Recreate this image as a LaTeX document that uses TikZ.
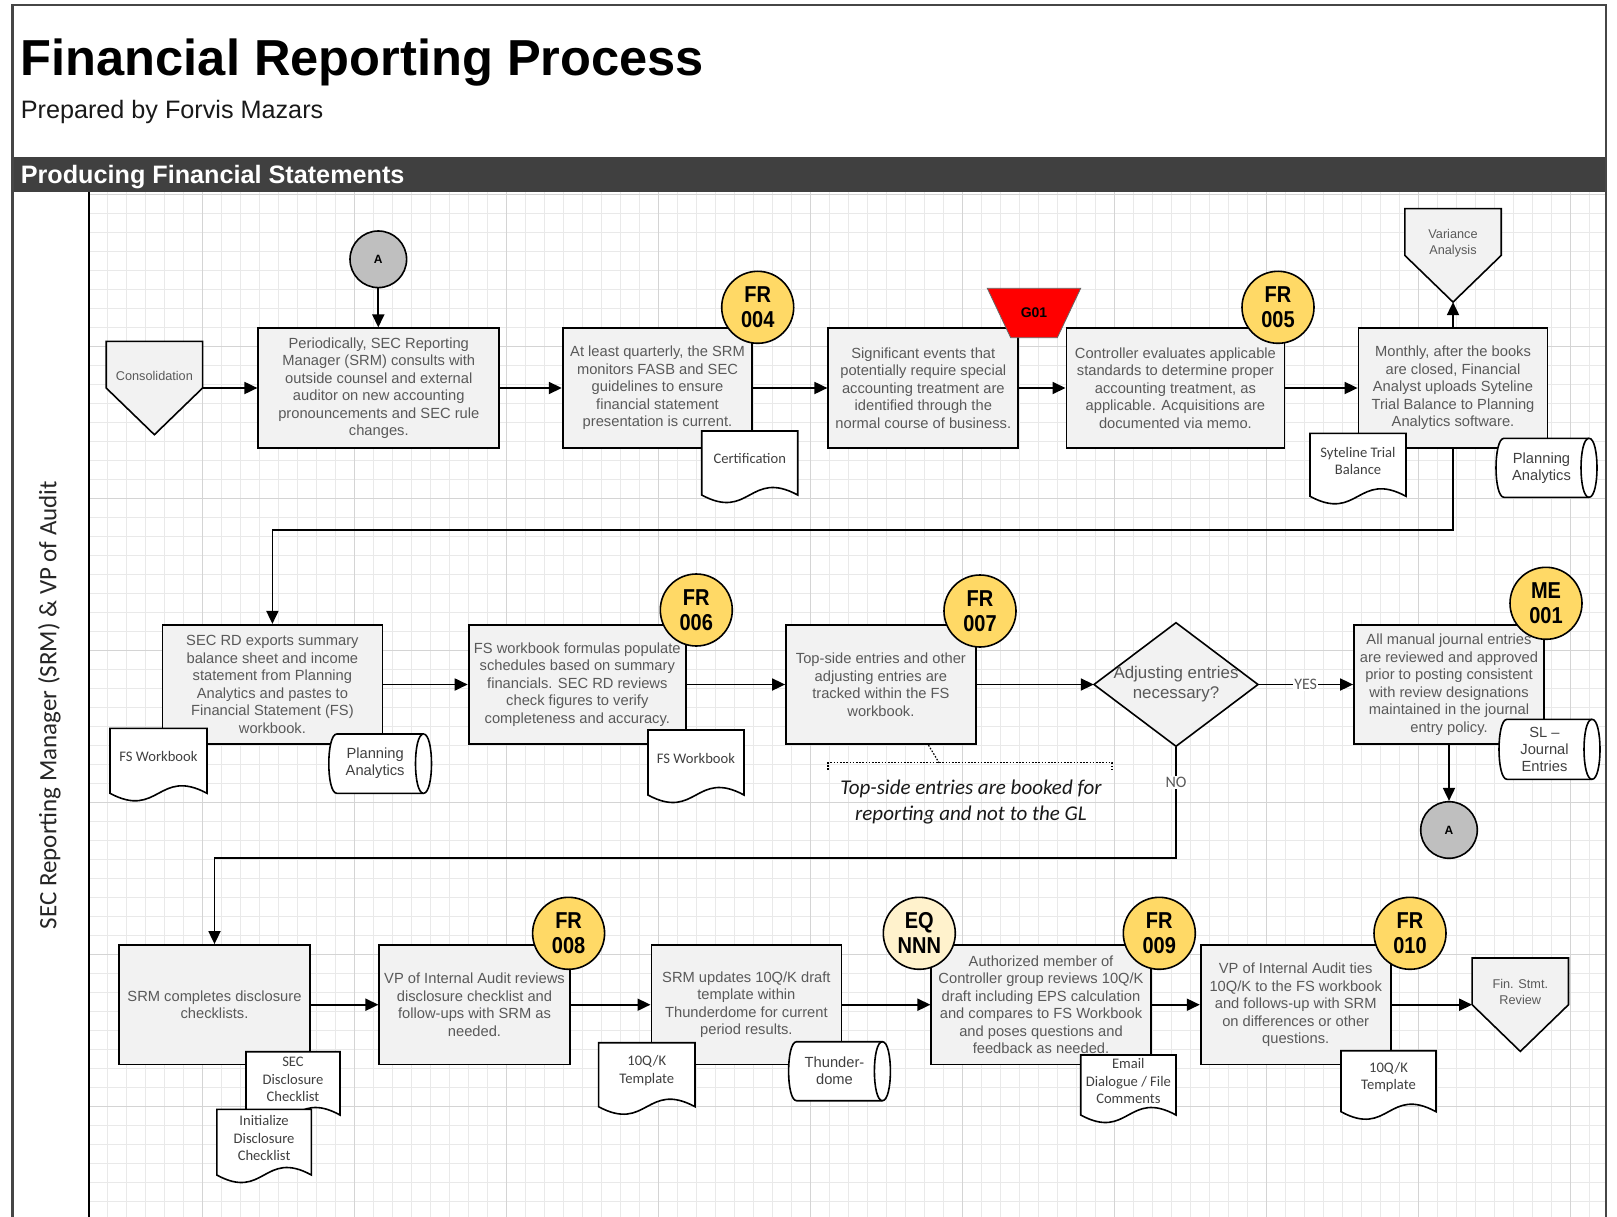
\documentclass[tikz,border=0pt]{standalone}
\usepackage{fontspec}
\setmainfont{Liberation Sans}
\newfontfamily\calibri{Carlito}
\newfontfamily\ctrlfont[FakeStretch=0.87]{Liberation Sans}
\usetikzlibrary{arrows.meta,calc}

\definecolor{boxfill}{RGB}{242,242,242}
\definecolor{boxtext}{RGB}{89,89,89}
\definecolor{ctrlgold}{RGB}{255,217,102}
\definecolor{ctrllight}{RGB}{255,242,204}
\definecolor{agray}{RGB}{191,191,191}
\definecolor{bandc}{RGB}{64,64,64}
\definecolor{gridc1}{RGB}{233,233,233}
\definecolor{gridc2}{RGB}{212,212,212}
\definecolor{doctxt}{RGB}{64,64,64}
\definecolor{framec}{RGB}{70,70,70}

% wavy-bottom document: name, left, top, width, height, text
\newcommand{\mkdoc}[6]{%
  \draw[docline] (#2,#3) -- ({#2+#4},#3) -- ({#2+#4},{#3+#5})
    .. controls ({#2+#4/2},{#3+#5-26}) and ({#2+#4/2},{#3+#5+26}) .. (#2,{#3+#5}) -- cycle;
  \node[doctext] (#1) at ({#2+#4/2},{#3+#5/2-4}) {#6};
}
% stored-data cylinder lying on its side: name, left, top, width, height, text
\newcommand{\mkcyl}[6]{%
  \draw[docline] ({#2+8},#3) -- ({#2+#4-8},#3)
    .. controls ({#2+#4+2.67},#3) and ({#2+#4+2.67},{#3+#5}) .. ({#2+#4-8},{#3+#5})
    -- ({#2+8},{#3+#5})
    .. controls ({#2-2.67},{#3+#5}) and ({#2-2.67},#3) .. ({#2+8},#3) -- cycle;
  \draw[docline] ({#2+#4-8},#3)
    .. controls ({#2+#4-18.67},#3) and ({#2+#4-18.67},{#3+#5}) .. ({#2+#4-8},{#3+#5});
  \node[cyltext] (#1) at ({#2+#4/2-5},{#3+#5/2}) {#6};
}
% off-page reference pentagon: name, centre x, centre y, text
\newcommand{\mkoff}[4]{%
  \node[offnode] (#1) at (#2,#3) {};
  \draw[offline] (#1.north west) -- (#1.north east) -- (#1.east) -- (#1.south) -- (#1.west) -- cycle;
  \node[smalltext] (#1-t) at ([yshift=12.5pt]#1.center) {#4};
}

\begin{document}
\begin{tikzpicture}[x=1pt,y=-1pt,
  proc/.style={draw, line width=1.8pt, fill=boxfill, text=boxtext, align=center,
    inner sep=0pt, minimum height=119.4pt, font={\fontsize{14.7}{17.5}\selectfont}},
  ctrl/.style={circle, draw, line width=1.6pt, fill=ctrlgold, minimum size=72pt,
    inner sep=0pt, align=center, font={\ctrlfont\bfseries\fontsize{23}{25}\selectfont}},
  ctrlb/.style={ctrl, fill=ctrllight},
  aconn/.style={circle, draw, line width=1.6pt, fill=agray, minimum size=56.6pt,
    inner sep=0pt, font={\bfseries\fontsize{12}{14}\selectfont}},
  docline/.style={draw, line width=1.6pt, fill=white},
  doctext/.style={align=center, inner sep=0pt, text=doctxt,
    font={\calibri\fontsize{14.6}{17.6}\selectfont}},
  cyltext/.style={align=center, inner sep=0pt, text=doctxt,
    font={\fontsize{14.7}{17}\selectfont}},
  offnode/.style={draw=none, minimum width=96pt, minimum height=93pt, inner sep=0pt},
  offline/.style={draw, line width=1.6pt, fill=boxfill},
  smalltext/.style={align=center, inner sep=0pt, text=boxtext,
    font={\fontsize{12.7}{16}\selectfont}},
  conn/.style={line width=1.8pt, -{Triangle[length=13pt,width=12pt]}},
  lbl/.style={fill=white, inner sep=1pt, text=boxtext,
    font={\calibri\fontsize{16}{18}\selectfont}},
  notedash/.style={line width=1.2pt, dash pattern=on 1.6pt off 1.6pt},
  gridmin/.style={draw=gridc1, line width=0.9pt},
  gridmaj/.style={draw=gridc2, line width=1pt}
]
\useasboundingbox (0,0) rectangle (1617,1217);
\fill[white] (0,0) rectangle (1617,1217);

% ---------- swimlane grid ----------
\begin{scope}
  \clip (88.7,192) rectangle (1606,1217);
  \foreach \k in {1,...,79} \draw[gridmin] ({88.7+19*\k},192) -- ({88.7+19*\k},1217);
  \foreach \j in {-1,...,52} \draw[gridmin] (88.7,{213.3+19*\j}) -- (1606,{213.3+19*\j});
  \foreach \m in {0,...,9} \draw[gridmaj] ({202.7+152*\m},192) -- ({202.7+152*\m},1217);
  \foreach \m in {0,...,6} \draw[gridmaj] (88.7,{194.3+152*\m}) -- (1606,{194.3+152*\m});
\end{scope}

% ---------- page frame, title and section band ----------
\fill[bandc] (12.4,157) rectangle (1606,192);
\draw[framec, line width=2.4pt] (12.4,1217) -- (12.4,5) -- (1606,5) -- (1606,1217);
\draw[line width=1.8pt] (88.7,192) -- (88.7,1217);

\node[anchor=base west, inner sep=0pt, font={\bfseries\fontsize{50.6}{60}\selectfont}]
  (title) at (20.6,75.3) {Financial Reporting Process};
\node[anchor=base west, inner sep=0pt, text=black!90, font={\fontsize{25.2}{30}\selectfont}]
  (subtitle) at (20.6,118.6) {Prepared by Forvis Mazars};
\node[anchor=base west, inner sep=0pt, text=white, font={\bfseries\fontsize{25.2}{30}\selectfont}]
  (section) at (20.6,183.5) {Producing Financial Statements};
\node[rotate=90, inner sep=0pt, text=black!85, font={\calibri\fontsize{25}{30}\selectfont}]
  (lane) at (49.5,705) {SEC Reporting Manager (SRM) \& VP of Audit};

% ---------- row 1 ----------
\node[proc, minimum width=241pt] (box1) at (378.8,388)
  {Periodically, SEC Reporting\\Manager (SRM) consults with\\outside counsel and external\\auditor on new accounting\\pronouncements and SEC rule\\changes.};
\node[proc, minimum width=189.6pt] (box2) at (657.5,388)
  {At least quarterly, the SRM\\monitors FASB and SEC\\guidelines to ensure\\financial statement\\presentation is current.};
\node[proc, minimum width=190pt] (box3) at (923.3,388)
  {Significant events that\\potentially require special\\accounting treatment are\\identified through the\\normal course of business.};
\node[proc, minimum width=218pt] (box4) at (1175.4,388)
  {Controller evaluates applicable\\standards to determine proper\\accounting treatment, as\\applicable. Acquisitions are\\documented via memo.};
\node[proc, minimum width=189pt] (box5) at (1453,388)
  {Monthly, after the books\\are closed, Financial\\Analyst uploads Syteline\\Trial Balance to Planning\\Analytics software.};

% ---------- row 2 ----------
\node[proc, minimum width=220pt] (box6) at (272.4,684.5)
  {SEC RD exports summary\\balance sheet and income\\statement from Planning\\Analytics and pastes to\\Financial Statement (FS)\\workbook.};
\node[proc, minimum width=217.4pt] (box7) at (577.3,684.5)
  {FS workbook formulas populate\\schedules based on summary\\financials. SEC RD reviews\\check figures to verify\\completeness and accuracy.};
\node[proc, minimum width=189.8pt] (box8) at (880.9,684.5)
  {Top-side entries and other\\adjusting entries are\\tracked within the FS\\workbook.};
\draw[line width=1.6pt, fill=boxfill] (1094,684.5) -- (1176,622.7) -- (1258,684.5) -- (1176,746.3) -- cycle;
\node[minimum width=164pt, minimum height=123.6pt, inner sep=0pt, align=center, text=boxtext,
  font={\fontsize{16.9}{20}\selectfont}] (dia) at (1176,684.5) {Adjusting entries\\necessary?};
\node[proc, minimum width=190pt] (box9) at (1449,684.5)
  {All manual journal entries\\are reviewed and approved\\prior to posting consistent\\with review designations\\maintained in the journal\\entry policy.};

% ---------- row 3 ----------
\node[proc, minimum width=190.3pt] (box10) at (214.5,1004.7)
  {SRM completes disclosure\\checklists.};
\node[proc, minimum width=190.3pt] (box11) at (474.5,1004.7)
  {VP of Internal Audit reviews\\disclosure checklist and\\follow-ups with SRM as\\needed.};
\node[proc, minimum width=190pt] (box12) at (746.4,1004.7)
  {SRM updates 10Q/K draft\\template within\\Thunderdome for current\\period results.};
\node[proc, minimum width=219.3pt] (box13) at (1041,1004.7)
  {Authorized member of\\Controller group reviews 10Q/K\\draft including EPS calculation\\and compares to FS Workbook\\and poses questions and\\feedback as needed.};
\node[proc, minimum width=190pt] (box14) at (1295.7,1004.7)
  {VP of Internal Audit ties\\10Q/K to the FS workbook\\and follows-up with SRM\\on differences or other\\questions.};

% ---------- off-page references ----------
\mkoff{cons}{154.4}{388}{Consolidation}
\mkoff{var}{1453}{255.4}{Variance\\Analysis}
\mkoff{fin}{1520.3}{1004.7}{Fin. Stmt.\\Review}

% ---------- documents ----------
\mkdoc{cert}{701.7}{431}{96}{64}{Certification}
\mkdoc{syte}{1310}{433.3}{96}{63}{Syteline Trial\\Balance}
\mkdoc{fswbA}{110}{728.3}{97}{65}{FS Workbook}
\mkdoc{fswbB}{648}{730}{96}{65}{FS Workbook}
\mkdoc{tmplA}{598.6}{1042.7}{96.4}{64}{10Q/K\\Template}
\mkdoc{secdc}{246}{1051.7}{94}{63.3}{SEC\\Disclosure\\Checklist}
\mkdoc{initdc}{216.8}{1109.3}{94.6}{65.7}{Initialize\\Disclosure\\Checklist}
\mkdoc{email}{1080.7}{1055}{95.3}{60}{Email\\Dialogue / File\\Comments}
\mkdoc{tmplB}{1341}{1050.7}{95}{61}{10Q/K\\Template}

% ---------- data stores ----------
\mkcyl{paA}{1496}{438.3}{101}{59}{Planning\\Analytics}
\mkcyl{paB}{328.8}{734}{102.7}{59.3}{Planning\\Analytics}
\mkcyl{thund}{788.6}{1041.7}{101.8}{59}{Thunder-\\dome}
\mkcyl{slje}{1499}{719.3}{101}{60}{SL –\\Journal\\Entries}

% ---------- G01 flag ----------
\draw[fill=red, draw=black!60, line width=0.8pt] (987.3,288.3) -- (1080.7,288.3) -- (1057.3,337.7) -- (1010.7,337.7) -- cycle;
\node[inner sep=0pt, font={\bfseries\fontsize{14}{16}\selectfont}] (g01) at (1034,312.5) {G01};

% ---------- control markers ----------
\node[ctrl] (fr004) at (757.7,307.3) {FR\\004};
\node[ctrl] (fr005) at (1278,307.3) {FR\\005};
\node[ctrl] (fr006) at (696.3,610) {FR\\006};
\node[ctrl] (fr007) at (980,611) {FR\\007};
\node[ctrl] (me001) at (1546,603.3) {ME\\001};
\node[ctrl] (fr008) at (568.6,933.3) {FR\\008};
\node[ctrlb] (eqnnn) at (919.3,933.3) {EQ\\NNN};
\node[ctrl] (fr009) at (1159.3,933.3) {FR\\009};
\node[ctrl] (fr010) at (1410,933.3) {FR\\010};

% ---------- on-page connectors ----------
\node[aconn] (A1) at (378.3,259.3) {A};
\node[aconn] (A2) at (1449,830) {A};

% ---------- annotation ----------
\node[align=center, inner sep=0pt, text=black!90, font={\calibri\itshape\fontsize{21}{25.7}\selectfont}]
  (note) at (971,802.2) {Top-side entries are booked for\\reporting and not to the GL};
\draw[notedash] (828,770) -- (828,762.7) -- (1112,762.7) -- (1112,770);
\coordinate (leadtop) at (939,762.7);
\draw[notedash] ([xshift=47.6pt]box8.south) -- (leadtop);

% ---------- flow ----------
\coordinate (r12) at (0,530);
\coordinate (r23) at (0,858.3);
\draw[conn] (A1.south) -- (A1.south |- box1.north);
\draw[conn] (cons.east) -- (box1.west);
\draw[conn] (box1.east) -- (box2.west);
\draw[conn] (box2.east) -- (box3.west);
\draw[conn] (box3.east) -- (box4.west);
\draw[conn] (box4.east) -- (box5.west);
\draw[conn] (box5.north) -- (var.south);
\draw[conn] (box5.south) -- (box5.south |- r12) -- (box6.north |- r12) -- (box6.north);
\draw[conn] (box6.east) -- (box7.west);
\draw[conn] (box7.east) -- (box8.west);
\draw[conn] (box8.east) -- (dia.west);
\draw[conn] (dia.east) -- node[lbl] (yes) {YES} (box9.west);
\draw[conn] (box9.south) -- (A2.north);
\draw[conn] (dia.south) -- node[lbl, pos=0.32] (no) {NO} (dia.south |- r23)
  -- (box10.north |- r23) -- (box10.north);
\draw[conn] (box10.east) -- (box11.west);
\draw[conn] (box11.east) -- (box12.west);
\draw[conn] (box12.east) -- (box13.west);
\draw[conn] (box13.east) -- (box14.west);
\draw[conn] (box14.east) -- (fin.west);
\end{tikzpicture}
\end{document}
